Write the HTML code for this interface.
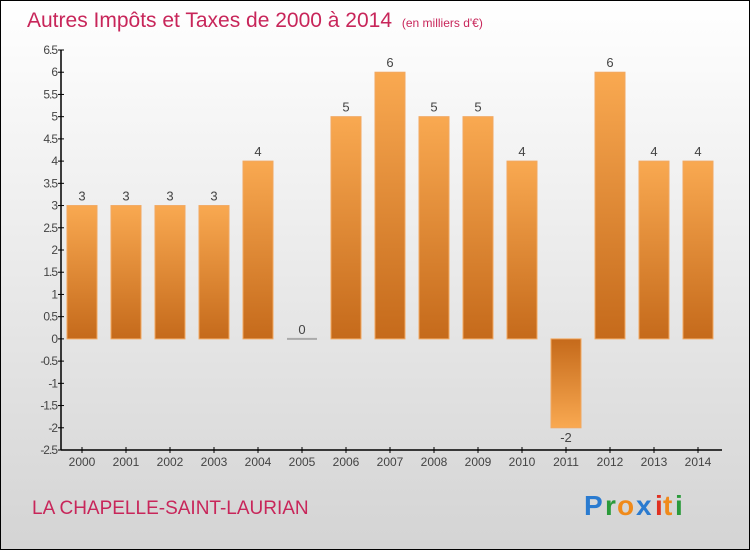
<!DOCTYPE html>
<html><head><meta charset="utf-8"><style>
body{margin:0;width:750px;height:550px;overflow:hidden}
#c{position:absolute;left:0;top:0;width:748px;height:548px;border:1px solid #000;background:linear-gradient(#ffffff,#d4d4d4)}
svg text{font-family:"Liberation Sans",sans-serif}
</style></head><body>
<div id="c">
<svg width="750" height="550" id="s" style="position:absolute;left:-1px;top:-1px">
<defs>
<linearGradient id="gp" x1="0" y1="0" x2="0" y2="1"><stop offset="0" stop-color="#f9a951"/><stop offset="1" stop-color="#c56a1b"/></linearGradient>
<linearGradient id="gn" x1="0" y1="0" x2="0" y2="1"><stop offset="0" stop-color="#c56a1b"/><stop offset="1" stop-color="#f9a951"/></linearGradient>
</defs>
<text x="27" y="27" font-size="21" fill="#c8265a">Autres Impôts et Taxes de 2000 à 2014 <tspan font-size="12" dx="4">(en milliers d'€)</tspan></text>
<text x="32" y="514" font-size="19" fill="#c8265a">LA CHAPELLE-SAINT-LAURIAN</text>
<g font-size="28" font-weight="bold" font-family="Liberation Sans">
<text x="584" y="515" fill="#2a7bd0">P</text><text x="605" y="515" fill="#2a9a3a">r</text><text x="617" y="515" fill="#f08a1a">o</text><text x="636" y="515" fill="#2a7bd0">x</text><text x="655" y="515" fill="#e03020">i</text><text x="663" y="515" fill="#f08a1a">t</text><text x="675" y="515" fill="#2a9a3a">i</text>
</g>
<g id="ax"></g><g id="bars"></g>
</svg></div>
<script>
const years=["2000","2001","2002","2003","2004","2005","2006","2007","2008","2009","2010","2011","2012","2013","2014"];
const values=[3,3,3,3,4,0,5,6,5,5,4,-2,6,4,4];
const valueLabels=["3","3","3","3","4","0","5","6","5","5","4","-2","6","4","4"];
const yTicks=[6.5,6,5.5,5,4.5,4,3.5,3,2.5,2,1.5,1,0.5,0,-0.5,-1,-1.5,-2,-2.5];
const yMin=-2.5,yMax=6.5,plotTop=50,plotBot=450,plotLeft=60,band=44;
const y=v=>plotBot-(v-yMin)/(yMax-yMin)*(plotBot-plotTop);
const x=i=>plotLeft+band*i+band/2;
const NS="http://www.w3.org/2000/svg";
function mk(t,a,p){const e=document.createElementNS(NS,t);for(const k in a)e.setAttribute(k,a[k]);p.appendChild(e);return e;}
const ax=document.getElementById('ax'),bg=document.getElementById('bars');
const yl=mk('line',{x1:61,x2:61,y1:plotTop,y2:plotBot,stroke:'#000','stroke-width':1.5},ax);


const xl=mk('line',{x1:61,x2:722,y1:plotBot,y2:plotBot,stroke:'#000','stroke-width':1.5},ax);


yTicks.forEach(v=>{mk('line',{x1:58,x2:64,y1:y(v),y2:y(v),stroke:'#000'},ax);
const t=mk('text',{x:57,y:y(v)+4,'text-anchor':'end','font-size':12,fill:'#444','letter-spacing':'-1'},ax);t.textContent=String(v);

});
years.forEach((yr,i)=>{mk('line',{x1:x(i),x2:x(i),y1:plotBot-3,y2:plotBot+3,stroke:'#000'},ax);
const t=mk('text',{x:x(i),y:plotBot+16,'text-anchor':'middle','font-size':12,fill:'#444'},ax);t.textContent=yr;


const v=values[i],y0=y(0),yv=y(v);
if(v===0){const r=mk('rect',{x:x(i)-15,y:y0-1,width:30,height:2,fill:'#aaa'},bg);

}
else{const r=mk('rect',{x:x(i)-15,y:Math.min(y0,yv),width:30,height:Math.abs(yv-y0),fill:v>0?'url(#gp)':'url(#gn)',stroke:'#f2a860','stroke-width':1},bg);

}
const l=mk('text',{x:x(i),y:v>=0?yv-5:yv+14,'text-anchor':'middle','font-size':13,fill:'#444'},bg);l.textContent=valueLabels[i];

});
</script>
</body></html>
